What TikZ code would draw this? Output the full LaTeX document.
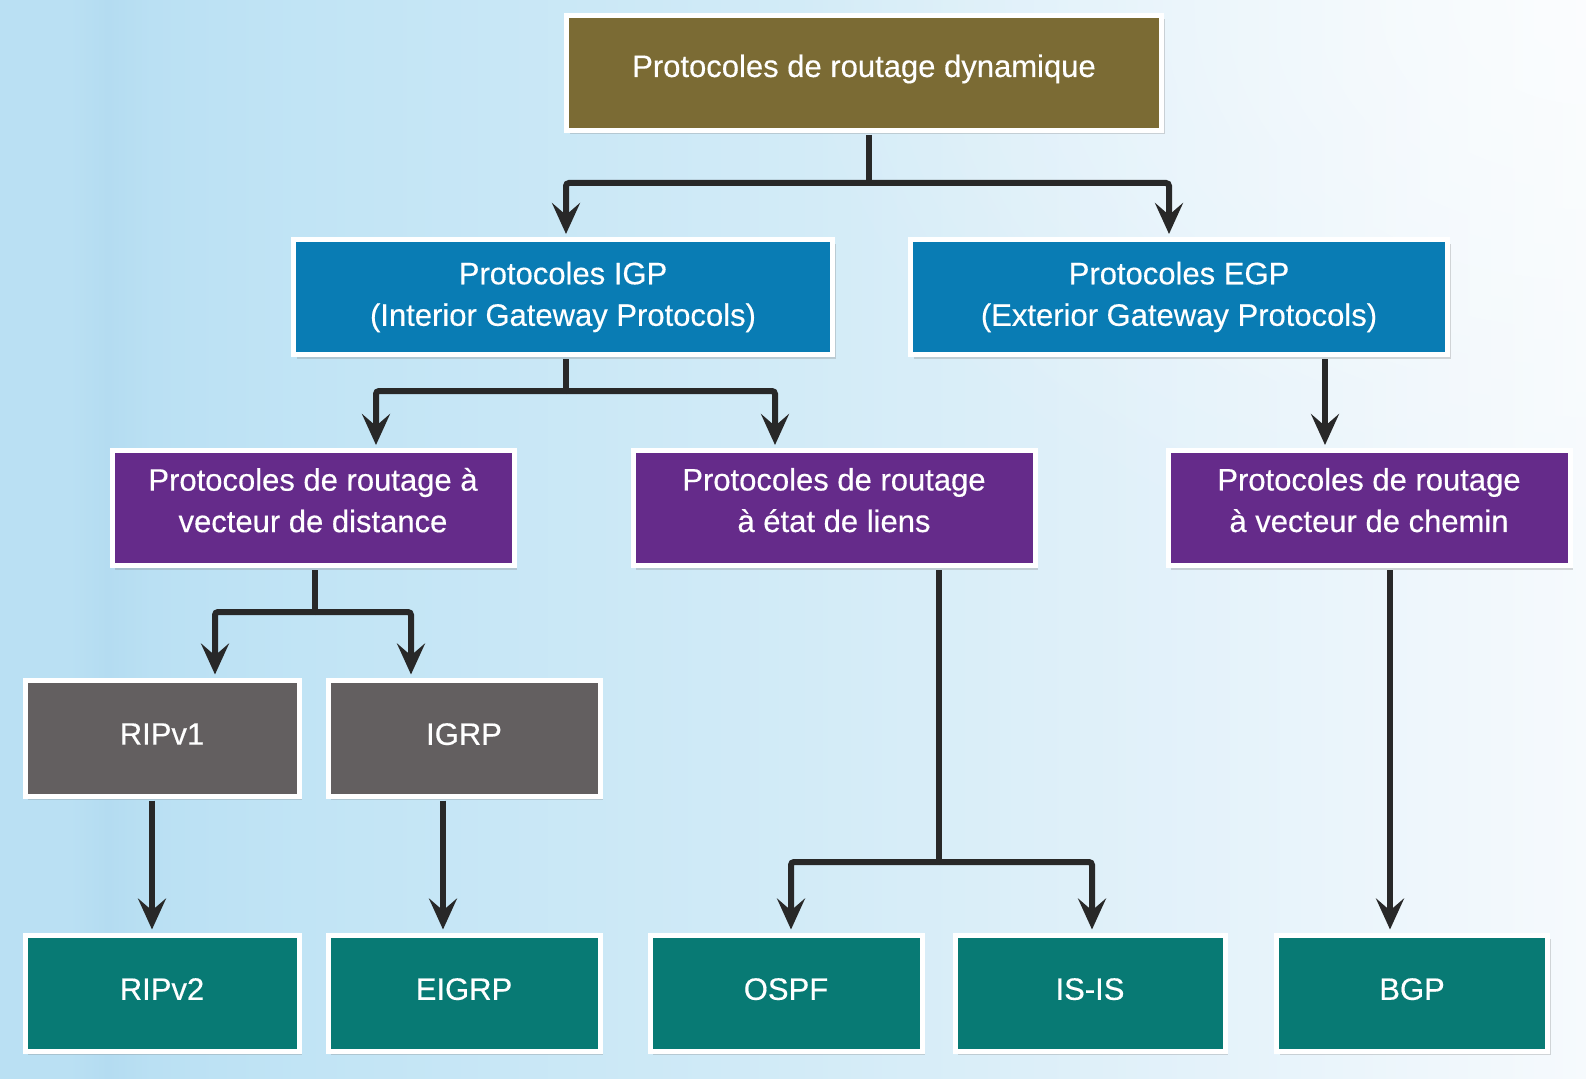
\documentclass[tikz,border=0pt]{standalone}
\usepackage{fontspec}
\setmainfont[FakeBold=0.4]{Liberation Sans}
\usetikzlibrary{arrows.meta,shadows,calc,fadings}
\definecolor{bgA}{RGB}{186,224,243}
\definecolor{bgB}{RGB}{180,220,241}
\definecolor{bgC}{RGB}{193,228,245}
\definecolor{bgD}{RGB}{210,235,247}
\definecolor{bgE}{RGB}{228,242,250}
\definecolor{bgF}{RGB}{246,250,253}
\definecolor{olivebox}{RGB}{123,107,52}
\definecolor{bluebox}{RGB}{9,124,180}
\definecolor{purplebox}{RGB}{101,43,138}
\definecolor{graybox}{RGB}{99,95,96}
\definecolor{tealbox}{RGB}{8,122,116}
\definecolor{connc}{RGB}{40,40,40}
\pgfdeclarehorizontalshading{bgshade}{100bp}{color(0bp)=(bgA); color(25bp)=(bgA);
  color(27.2bp)=(bgA); color(28.4bp)=(bgB); color(29.8bp)=(bgA); color(34.5bp)=(bgC);
  color(50bp)=(bgD); color(63bp)=(bgE); color(75bp)=(bgF); color(100bp)=(bgF)}
\tikzfading[name=cornerfade, inner color=transparent!0, outer color=transparent!100]
\newcommand\dpfix[1]{\rule[-#1]{0pt}{#1}}
\begin{document}
\begin{tikzpicture}[x=1pt,y=-1pt,
  box/.style={draw=white, line width=5pt, text=white, align=center,
    font=\fontsize{31}{41.5}\selectfont, inner sep=0pt,
    minimum height=115pt,
    drop shadow={opacity=0.3, shadow xshift=3pt, shadow yshift=-4pt}},
  smallbox/.style={box, minimum height=116pt},
  conn/.style={draw=connc, line width=6pt, rounded corners=3pt},
  arr/.style={conn, -{Stealth[length=31pt,width=28pt,inset=12pt]}, shorten >=3pt}
]
\useasboundingbox (0,0) rectangle (1586,1078);
\shade[shading=bgshade] (0,0) rectangle (1586,1078);
\fill[white, opacity=0.6, path fading=cornerfade] (1586,0) ellipse (800pt and 620pt);

% nodes
\node[box, fill=olivebox, minimum width=595pt] (top) at (864,73) {Protocoles de routage dynamique\dpfix{14.5pt}};
\node[box, fill=bluebox, minimum width=539pt] (igp) at (563,297) {Protocoles IGP\\(Interior Gateway Protocols)};
\node[box, fill=bluebox, minimum width=537pt] (egp) at (1179,297) {Protocoles EGP\\(Exterior Gateway Protocols)};
\node[box, fill=purplebox, minimum width=402pt] (dv) at (313,508) {Protocoles de routage à\\vecteur de distance\dpfix{16pt}};
\node[box, fill=purplebox, minimum width=402pt] (ls) at (834,508) {Protocoles de routage\\à état de liens\dpfix{16pt}};
\node[box, fill=purplebox, minimum width=402pt] (pv) at (1369,508) {Protocoles de routage\\à vecteur de chemin\dpfix{16pt}};
\node[smallbox, fill=graybox, minimum width=274pt] (rip1) at (162,738) {RIPv1\dpfix{8pt}};
\node[smallbox, fill=graybox, minimum width=272pt] (igrp) at (464,738) {IGRP\dpfix{8pt}};
\node[smallbox, fill=tealbox, minimum width=274pt] (rip2) at (162,993) {RIPv2\dpfix{8pt}};
\node[smallbox, fill=tealbox, minimum width=272pt] (eigrp) at (464,993) {EIGRP\dpfix{8pt}};
\node[smallbox, fill=tealbox, minimum width=272pt] (ospf) at (786,993) {OSPF\dpfix{8pt}};
\node[smallbox, fill=tealbox, minimum width=270pt] (isis) at (1090,993) {IS-IS\dpfix{8pt}};
\node[smallbox, fill=tealbox, minimum width=271pt] (bgp) at (1412,993) {BGP\dpfix{8pt}};

% junctions
\coordinate (j0) at (869,183);
\coordinate (j1) at (566,391);
\coordinate (j2) at (315,612);
\coordinate (j3) at (939,862);

% connectors
\draw[conn] ([yshift=-2pt]top.south -| j0) -- (j0);
\draw[arr] (j0) -| ([xshift=3pt]igp.north);
\draw[arr] (j0) -| ([xshift=-10pt]egp.north);

\draw[conn] ([yshift=-2pt]igp.south -| j1) -- (j1);
\draw[arr] (j1) -| ([xshift=63pt]dv.north);
\draw[arr] (j1) -| ([xshift=-59pt]ls.north);

\draw[arr] ([yshift=-2pt,xshift=146pt]egp.south) -- ([xshift=-44pt]pv.north);

\draw[conn] ([yshift=-2pt]dv.south -| j2) -- (j2);
\draw[arr] (j2) -| ([xshift=53pt]rip1.north);
\draw[arr] (j2) -| ([xshift=-53pt]igrp.north);

\draw[conn] ([yshift=-2pt]ls.south -| j3) -- (j3);
\draw[arr] (j3) -| ([xshift=5pt]ospf.north);
\draw[arr] (j3) -| ([xshift=2pt]isis.north);

\draw[arr] ([yshift=-2pt,xshift=21pt]pv.south) -- ([xshift=-22pt]bgp.north);
\draw[arr] ([yshift=-2pt,xshift=-10pt]rip1.south) -- ([xshift=-10pt]rip2.north);
\draw[arr] ([yshift=-2pt,xshift=-21pt]igrp.south) -- ([xshift=-21pt]eigrp.north);
\end{tikzpicture}
\end{document}
